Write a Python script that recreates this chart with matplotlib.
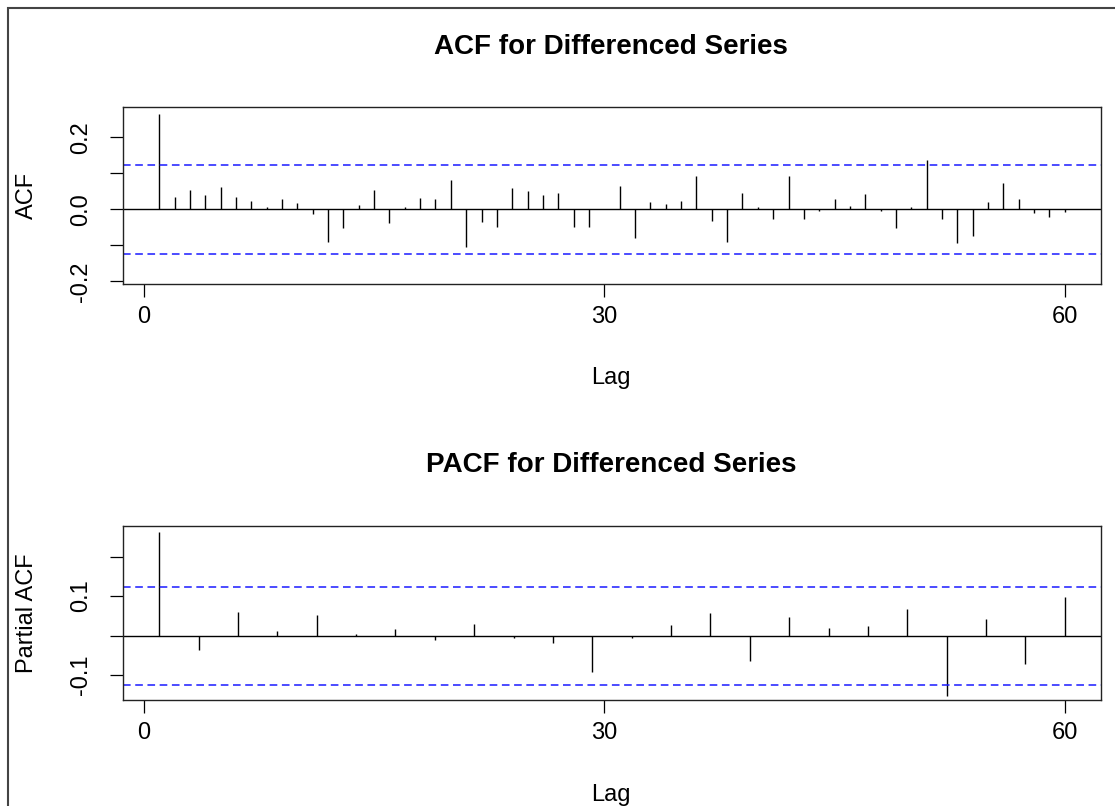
import numpy as np
import matplotlib
matplotlib.use('Agg')
from matplotlib import pyplot as plt
from matplotlib.patches import Rectangle

plt.rcParams['font.family'] = ['Liberation Sans', 'DejaVu Sans']

# ACF of the differenced series, lags 1..60
acf_lags = np.arange(1, 61)
acf_vals = [0.265, 0.035, 0.054, 0.039, 0.061, 0.035, 0.024, 0.006, 0.028, 0.017,
            -0.014, -0.090, -0.052, 0.011, 0.054, -0.037, 0.005, 0.031, 0.028, 0.081,
            -0.106, -0.034, -0.049, 0.058, 0.051, 0.039, 0.046, -0.048, -0.048, 0.001,
            0.065, -0.081, 0.020, 0.016, 0.023, 0.092, -0.033, -0.090, 0.046, 0.006,
            -0.026, 0.092, -0.026, -0.006, 0.028, 0.009, 0.042, -0.006, -0.052, 0.006,
            0.136, -0.026, -0.094, -0.074, 0.019, 0.072, 0.028, -0.011, -0.022, -0.007]

# PACF: 24 values spread over the same lag range
pacf_lags = np.linspace(1, 60, 24)
pacf_vals = [0.263, -0.036, 0.060, 0.012, 0.053, 0.004, 0.016, -0.012, 0.029, -0.005,
             -0.019, -0.091, -0.005, 0.026, 0.057, -0.064, 0.046, 0.019, 0.025, 0.068,
             -0.154, 0.043, -0.072, 0.098]

conf_lim = 0.124

W, H = 1115, 806
fig = plt.figure(figsize=(W / 100, H / 100), dpi=100)


def fx(x):
    return x / W


def fy(y):
    return 1 - y / H


def panel(top, bottom, lags, vals, ylim, yticks, ylabels, title, ylab, title_y, lag_y):
    ax = fig.add_axes([fx(123), fy(bottom), fx(1101) - fx(123), fy(top) - fy(bottom)])
    ax.vlines(lags, 0, vals, colors='black', lw=1.0)
    ax.axhline(0, color='black', lw=1.0)
    for c in (conf_lim, -conf_lim):
        ax.axhline(c, color='#1a1aff', lw=1.1, linestyle=(0, (5, 3)))
    ax.set_xlim(1 - 0.04 * 59, 60 + 0.04 * 59)
    ax.set_ylim(*ylim)
    ax.set_xticks([0, 30, 60])
    ax.set_yticks(yticks)
    ax.set_yticklabels(ylabels)
    ax.tick_params(axis='both', direction='out', length=9.5, width=0.9, labelsize=17)
    ax.tick_params(axis='y', labelrotation=90, pad=13)
    ax.tick_params(axis='x', pad=6)
    for lab in ax.get_yticklabels():
        lab.set_va('center')
    for s in ax.spines.values():
        s.set_linewidth(1.0)
        s.set_color('#222222')
    fig.text(fx(611), fy(title_y), title, ha='center', va='center',
             fontsize=20, fontweight='bold')
    fig.text(fx(611), fy(lag_y), 'Lag', ha='center', va='center', fontsize=17)
    fig.text(fx(27), fy((top + bottom) / 2), ylab, ha='center', va='center',
             rotation=90, fontsize=17)
    return ax


panel(107, 284, acf_lags, acf_vals, (-0.2075, 0.284),
      [-0.2, -0.1, 0.0, 0.1, 0.2], ['-0.2', '', '0.0', '', '0.2'],
      'ACF for Differenced Series', 'ACF', 47, 378)

panel(525.7, 700, pacf_lags, pacf_vals, (-0.163, 0.278),
      [-0.1, 0.0, 0.1, 0.2], ['-0.1', '', '0.1', ''],
      'PACF for Differenced Series', 'Partial ACF', 465, 795)

# outer frame of the original device window (only left and top are visible)
fig.add_artist(Rectangle((fx(8), -0.1), 1.2, fy(8) + 0.1, transform=fig.transFigure,
                         fill=False, lw=1.5, ec='#444444'))

fig.savefig('out.png', dpi=100)
